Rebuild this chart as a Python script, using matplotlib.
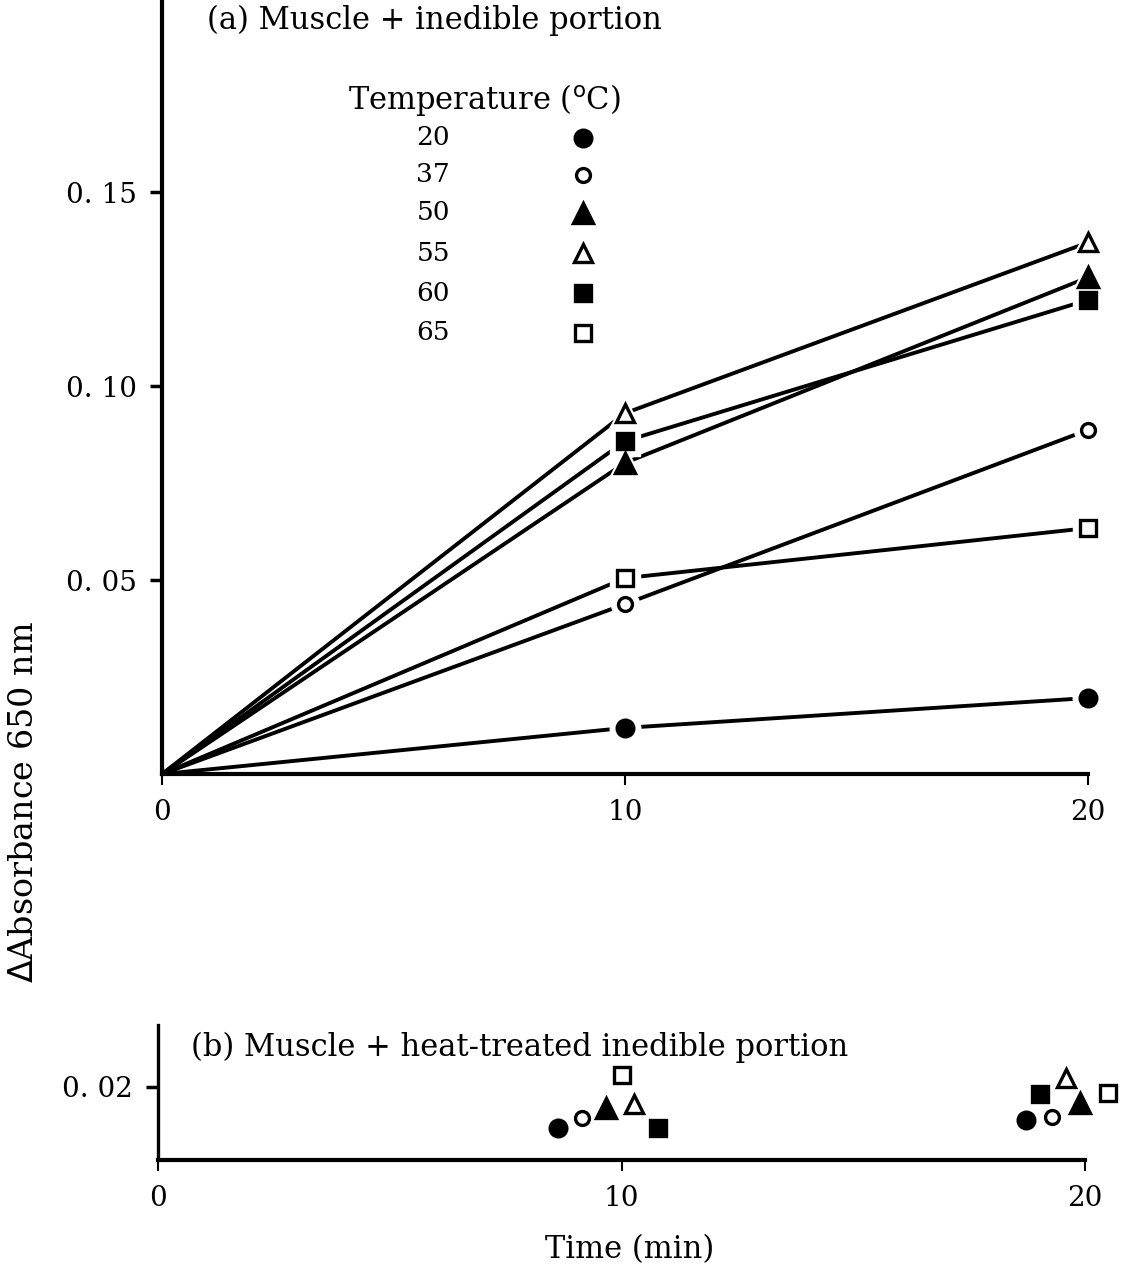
import matplotlib.pyplot as plt

plt.rcParams['font.family'] = ['DejaVu Serif']
plt.rcParams['font.size'] = 20

# temperatures and marker styles
temps = ['20', '37', '50', '55', '60', '65']
markers = ['o', 'o', '^', '^', 's', 's']
filled = [True, False, True, False, True, False]
sizes = [12, 10, 14, 13, 12, 11]

# (a) muscle + inedible portion
times_a = [0, 10, 20]
a_20 = [0, 0.0119, 0.0196]
a_37 = [0, 0.0438, 0.0887]
a_50 = [0, 0.0802, 0.1280]
a_55 = [0, 0.0930, 0.1370]
a_60 = [0, 0.0858, 0.1222]
a_65 = [0, 0.0505, 0.0634]
series_a = [a_20, a_37, a_50, a_55, a_60, a_65]

# (b) muscle + heat-treated inedible portion (points spread around t=10 and t=20)
b_x10 = [8.63, 9.15, 9.67, 10.27, 10.79, 10.01]
b_y10 = [0.0144, 0.0158, 0.0171, 0.0177, 0.0144, 0.0216]
b_x20 = [18.73, 19.29, 19.89, 19.59, 19.03, 20.50]
b_y20 = [0.0155, 0.0159, 0.0178, 0.0212, 0.0190, 0.0192]


def mstyle(i, ms=None):
    ms = sizes[i] if ms is None else ms
    return dict(marker=markers[i], ms=ms, mec='black', mew=2.4,
                mfc='black' if filled[i] else 'white', ls='none')


fig = plt.figure(figsize=(11.29, 12.75), dpi=100)

# ---- panel (a)
ax = fig.add_axes([0.1435, 0.3929, 0.8202, 0.6071])
for i, vals in enumerate(series_a):
    ax.plot(times_a, vals, color='black', lw=2.8, zorder=2)
    ax.plot(times_a[1:], vals[1:], marker=markers[i], ms=sizes[i] + 10,
            mfc='white', mec='white', ls='none', zorder=3, clip_on=False)
    ax.plot(times_a[1:], vals[1:], zorder=4, clip_on=False, **mstyle(i))

ax.set_xlim(0, 20)
ax.set_ylim(0, 0.1995)
ax.set_xticks([0, 10, 20])
ax.set_xticklabels(['0', '10', '20'])
ax.set_yticks([0.05, 0.10, 0.15])
ax.set_yticklabels(['0. 05', '0. 10', '0. 15'])
ax.spines['top'].set_visible(False)
ax.spines['right'].set_visible(False)
ax.spines['left'].set_linewidth(3)
ax.spines['bottom'].set_linewidth(3)
ax.tick_params(axis='y', direction='out', length=9, width=2.5, pad=9,
               labelsize=20)
ax.tick_params(axis='x', direction='out', length=8, width=1.5, pad=10,
               labelsize=20)

ax.text(0.049, 0.974, '(a) Muscle + inedible portion', transform=ax.transAxes,
        ha='left', va='center', fontsize=22)
ax.text(0.348, 0.871, 'Temperature ($^{\\mathrm{o}}$C)', transform=ax.transAxes,
        ha='center', va='center', fontsize=22)
leg_y = [0.822, 0.774, 0.725, 0.673, 0.621, 0.570]
for i, t in enumerate(temps):
    ax.text(0.293, leg_y[i], t, transform=ax.transAxes, ha='center',
            va='center', fontsize=19)
    ax.plot([0.455], [leg_y[i]], transform=ax.transAxes, clip_on=False,
            **mstyle(i))

# ---- panel (b)
bx = fig.add_axes([0.140, 0.0902, 0.821, 0.106])
for i in range(len(temps)):
    bx.plot([b_x10[i], b_x20[i]], [b_y10[i], b_y20[i]], clip_on=False,
            zorder=4, **mstyle(i))
bx.set_xlim(0, 20)
bx.set_ylim(0.01, 0.0285)
bx.set_xticks([0, 10, 20])
bx.set_xticklabels(['0', '10', '20'])
bx.set_yticks([0.02])
bx.set_yticklabels(['0. 02'])
bx.spines['top'].set_visible(False)
bx.spines['right'].set_visible(False)
bx.spines['left'].set_linewidth(2.4)
bx.spines['bottom'].set_linewidth(3)
bx.tick_params(axis='y', direction='out', length=9, width=2.5, pad=9,
               labelsize=20)
bx.tick_params(axis='x', direction='out', length=8, width=1.5, pad=10,
               labelsize=20)
bx.text(0.035, 0.83, '(b) Muscle + heat-treated inedible portion',
        transform=bx.transAxes, ha='left', va='center', fontsize=22)

fig.text(0.021, 0.371, '$\\Delta$Absorbance 650 nm', rotation=90,
         ha='center', va='center', fontsize=24)
fig.text(0.558, 0.0196, 'Time (min)', ha='center', va='center', fontsize=22)

fig.savefig('out.png', dpi=100, facecolor='white')
